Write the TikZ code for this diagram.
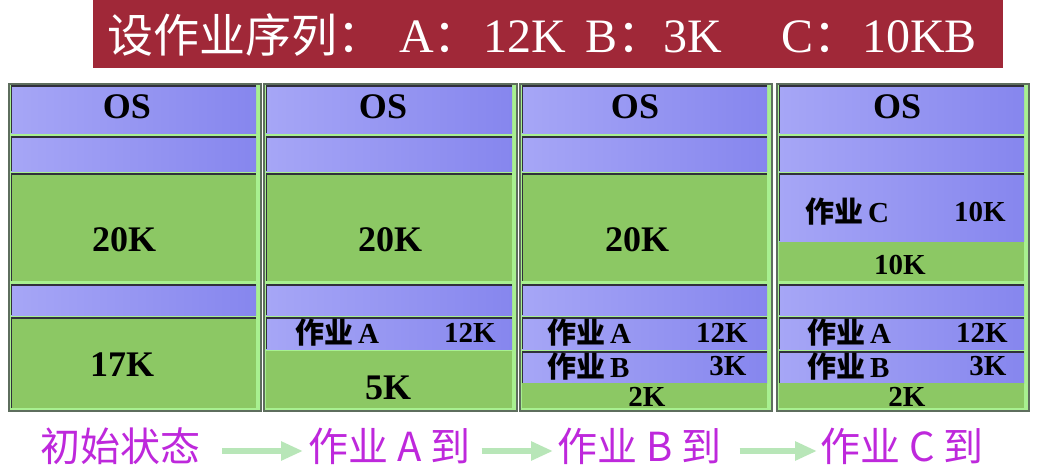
\documentclass[tikz,border=0pt]{standalone}
\usepackage{fontspec}
\setmainfont{Liberation Serif}
\newfontfamily\cjk{Noto Sans CJK SC}
\usetikzlibrary{arrows.meta}
\definecolor{bannerred}{HTML}{A02838}
\definecolor{purpL}{HTML}{A6A6F6}
\definecolor{purpR}{HTML}{8686EE}
\definecolor{memgreen}{HTML}{8CC864}
\definecolor{litegreen}{HTML}{A8F090}
\definecolor{darkedge}{HTML}{30303C}
\definecolor{frame}{HTML}{5E6E5E}
\definecolor{magentalbl}{HTML}{BE28DC}
\definecolor{arrowgreen}{HTML}{B8E6B8}
\tikzset{
  panelst/.style={rectangle, anchor=north west, inner sep=0pt, fill=litegreen, draw=frame, line width=2pt},
  purpcell/.style={rectangle, anchor=north west, inner sep=0pt, draw=none, left color=purpL, right color=purpR},
  greencell/.style={rectangle, anchor=north west, inner sep=0pt, draw=none, fill=memgreen},
  topedge/.style={draw=darkedge, line width=1.6pt},
  leftedge/.style={draw=darkedge, line width=1pt},
  bigtxt/.style={font=\bfseries\fontsize{36}{36}\selectfont, inner sep=0pt},
  smalltxt/.style={font=\bfseries\fontsize{29}{29}\selectfont, inner sep=0pt},
  jobtxt/.style={font=\fontsize{29}{29}\selectfont, inner sep=0pt, anchor=west},
  steplbl/.style={font=\cjk\fontsize{40}{40}\selectfont, text=magentalbl, inner sep=0pt, anchor=west},
  arr/.style={draw=arrowgreen, line width=6.5pt, -{Triangle[length=22pt,width=18pt]}},
}
\newcommand\panelbox[3]{%
  \node[panelst, minimum width={(#3-#2)*1pt}, minimum height=327pt] (#1) at (#2,83) {};}
\newcommand\cellbox[6]{% name, style, x1, x2, y1, y2
  \node[#2, minimum width={(#4-#3)*1pt}, minimum height={(#6-#5)*1pt}] (#1) at (#3,#5) {};
  \draw[topedge] ([yshift=-0.8pt]#1.north west) -- ([yshift=-0.8pt]#1.north east);
  \draw[leftedge] ([xshift=0.5pt]#1.north west) -- ([xshift=0.5pt]#1.south west);}
\newcommand\joblbl[1]{{\cjk\bfseries 作业}\,{\bfseries #1}}
\newcommand\cjkc{{\cjk\fontsize{46}{46}\selectfont ：}}
\begin{document}
\begin{tikzpicture}[x=1pt,y=-1pt]
\useasboundingbox (0,0) rectangle (1040,473);
\fill[white] (0,0) rectangle (1040,473);
% banner
\node[rectangle, fill=bannerred, anchor=north west, minimum width=910pt, minimum height=68pt, inner sep=0pt] (banner) at (93,0) {};
\node[text=white, anchor=west, inner sep=0pt, font=\fontsize{48}{48}\selectfont] (title) at (107,35)
  {{\cjk\fontsize{46}{46}\selectfont 设作业序列：}\hspace{16pt}A\cjkc\hspace{4pt}12K\hspace{19pt}B\cjkc 3K\hspace{59pt}C\cjkc\hspace{3pt}10KB};
% panels
\panelbox{p1}{8}{260}
\panelbox{p2}{263}{516}
\panelbox{p3}{519}{771}
\panelbox{p4}{776}{1028}
% panel 1
\cellbox{a1}{purpcell}{11}{256}{85}{133}
\cellbox{b1}{purpcell}{11}{256}{136}{171}
\cellbox{c1}{greencell}{11}{256}{173}{281}
\cellbox{d1}{purpcell}{11}{256}{284}{315}
\cellbox{e1}{greencell}{11}{256}{317}{408}
% panel 2
\cellbox{a2}{purpcell}{266}{512}{85}{133}
\cellbox{b2}{purpcell}{266}{512}{136}{171}
\cellbox{c2}{greencell}{266}{512}{173}{281}
\cellbox{d2}{purpcell}{266}{512}{284}{315}
\cellbox{e2}{purpcell}{266}{512}{317}{349}
\node[greencell, minimum width=246pt, minimum height=57pt] (f2) at (266,351) {};
% panel 3
\cellbox{a3}{purpcell}{522}{767}{85}{133}
\cellbox{b3}{purpcell}{522}{767}{136}{171}
\cellbox{c3}{greencell}{522}{767}{173}{281}
\cellbox{d3}{purpcell}{522}{767}{284}{315}
\cellbox{e3}{purpcell}{522}{767}{317}{349}
\cellbox{f3}{purpcell}{522}{767}{351}{383}
\node[greencell, minimum width=245pt, minimum height=25pt] (g3) at (522,383) {};
% panel 4
\cellbox{a4}{purpcell}{779}{1024}{85}{133}
\cellbox{b4}{purpcell}{779}{1024}{136}{171}
\node[greencell, minimum width=245pt, minimum height=40pt] (c4g) at (779,241) {};
\cellbox{c4}{purpcell}{779}{1024}{173}{241}
\cellbox{d4}{purpcell}{779}{1024}{284}{315}
\cellbox{e4}{purpcell}{779}{1024}{317}{349}
\cellbox{f4}{purpcell}{779}{1024}{351}{383}
\node[greencell, minimum width=245pt, minimum height=25pt] (g4) at (779,383) {};
% texts
\node[bigtxt] (os1) at (127,107) {OS};
\node[bigtxt] (os2) at (383,107) {OS};
\node[bigtxt] (os3) at (635,107) {OS};
\node[bigtxt] (os4) at (897,107) {OS};
\node[bigtxt] (t20a) at (124,240) {20K};
\node[bigtxt] (t20b) at (390,240) {20K};
\node[bigtxt] (t20c) at (637,240) {20K};
\node[bigtxt] (t17) at (122,365) {17K};
\node[bigtxt] (t5) at (388,388) {5K};
% panel 2 job A
\node[jobtxt] (ja2) at (295,333) {\joblbl{A}};
\node[smalltxt] (ka2) at (470,333) {12K};
% panel 3 jobs
\node[jobtxt] (ja3) at (547,333) {\joblbl{A}};
\node[smalltxt] (ka3) at (722,333) {12K};
\node[jobtxt] (jb3) at (547,367) {\joblbl{B}};
\node[smalltxt] (kb3) at (728,366) {3K};
\node[smalltxt] (r3) at (647,397) {2K};
% panel 4 jobs
\node[jobtxt] (jc4) at (805,212) {\joblbl{C}};
\node[smalltxt] (kc4) at (980,212) {10K};
\node[smalltxt] (r4a) at (900,265) {10K};
\node[jobtxt] (ja4) at (807,333) {\joblbl{A}};
\node[smalltxt] (ka4) at (982,333) {12K};
\node[jobtxt] (jb4) at (807,367) {\joblbl{B}};
\node[smalltxt] (kb4) at (988,366) {3K};
\node[smalltxt] (r4) at (907,397) {2K};
% bottom step labels
\node[steplbl] (l1) at (40,446) {初始状态};
\node[steplbl] (l2) at (308,446) {作业 A 到};
\node[steplbl] (l3) at (557,446) {作业 B 到};
\node[steplbl] (l4) at (820,446) {作业 C 到};
\draw[arr, shorten <=22pt, shorten >=5pt] ([yshift=-5pt]l1.east) -- ([yshift=-5pt]l2.west);
\draw[arr, shorten <=11pt, shorten >=4pt] ([yshift=-5pt]l2.east) -- ([yshift=-5pt]l3.west);
\draw[arr, shorten <=18pt, shorten >=3pt] ([yshift=-5pt]l3.east) -- ([yshift=-5pt]l4.west);
\end{tikzpicture}
\end{document}
